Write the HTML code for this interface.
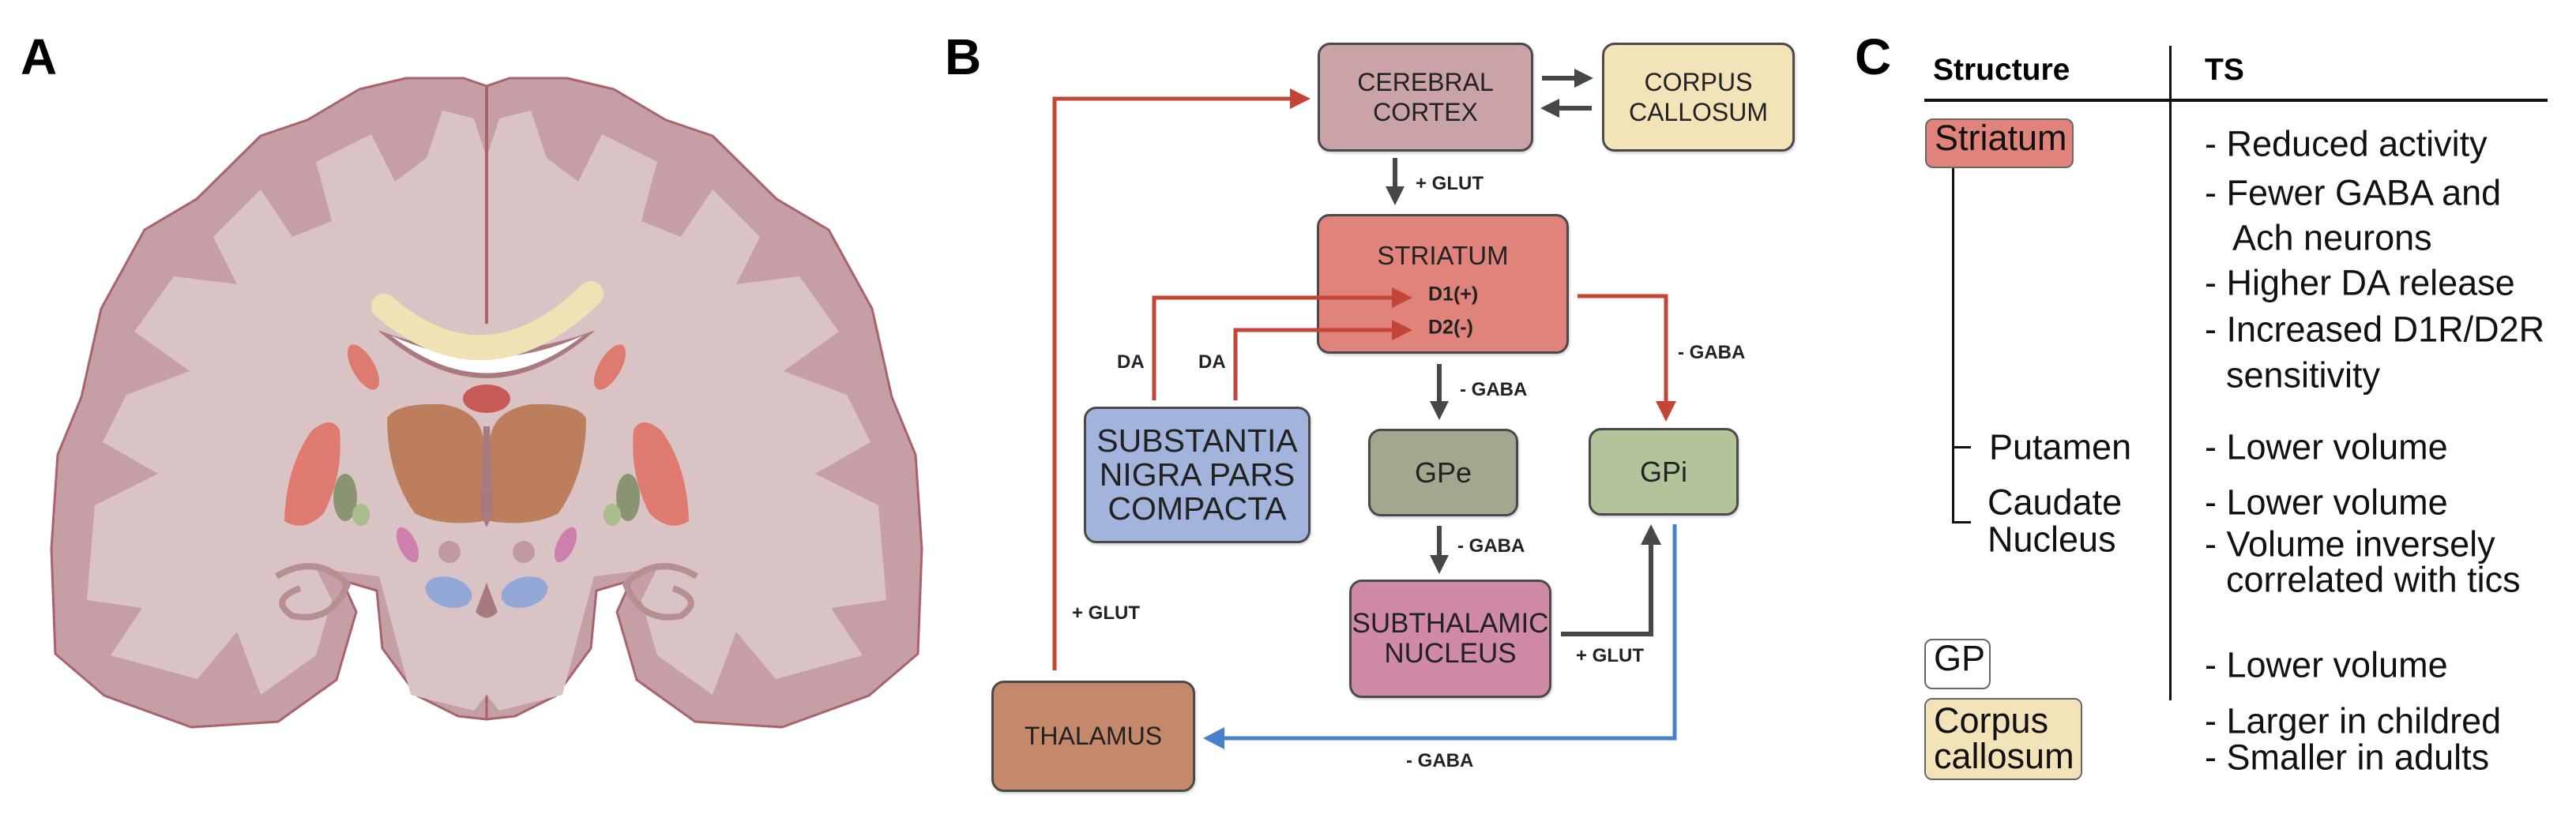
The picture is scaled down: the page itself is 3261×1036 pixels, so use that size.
<!DOCTYPE html>
<html><head><meta charset="utf-8"><style>
html,body{margin:0;padding:0;background:#fff;}
body{width:3261px;height:1036px;position:relative;overflow:hidden;font-family:"Liberation Sans",Arial,sans-serif;}
.box{position:absolute;box-sizing:border-box;border:3px solid #4a4a4a;border-radius:16px;display:flex;align-items:center;justify-content:center;text-align:center;color:#222;line-height:1.2;box-shadow:1px 2px 3px rgba(0,0,0,0.2);}
.lbl{position:absolute;font-weight:bold;font-size:24px;color:#222;white-space:nowrap;transform:translateY(-50%);}
.pl{position:absolute;font-weight:bold;font-size:64px;color:#000;line-height:1;}
.t{position:absolute;font-size:45px;color:#111;white-space:nowrap;transform:translateY(-50%);line-height:1;}
.tag{position:absolute;box-sizing:border-box;border:2px solid #666;border-radius:10px;font-size:45px;color:#111;padding-left:10px;line-height:1.02;}
</style></head><body>

<!-- Panel A -->
<div class="pl" style="left:26px;top:40px;">A</div>
<svg style="position:absolute;left:0;top:0" width="1240" height="1036" viewBox="0 0 1240 1036">
<defs>
<path id="half" d="M616,109 L587,99 L514,99 L455,113 L389,152 L330,172 L249,252 L183,291 L128,391 L103,503 L73,576 L65,695 L70,828 L132,881 L242,921 L352,914 L426,861 L451,775 L433,735 L477,748 L484,821 L528,881 L580,907 L616,911 Z"/>
</defs>
<g stroke="#a9636d" stroke-width="3" fill="#c59fa5" stroke-linejoin="round">
<use href="#half"/>
<use href="#half" transform="translate(1232,0) scale(-1,1)"/>
</g>
<!-- white matter -->
<g fill="#dac3c4">
<path id="wm" d="M600,150 L560,140 L540,200 L500,230 L470,170 L400,205 L420,280 L370,300 L330,240 L270,300 L300,360 L220,350 L170,420 L240,470 L160,500 L130,560 L200,600 L120,640 L110,760 L180,770 L140,830 L250,860 L300,800 L330,880 L400,830 L420,760 L400,720 L480,730 L520,880 L600,900 L616,880 L616,200 Z"/>
<use href="#wm" transform="translate(1232,0) scale(-1,1)"/>
</g>
<line x1="616" y1="110" x2="616" y2="410" stroke="#a9636d" stroke-width="4"/>
<!-- hippocampus curls -->
<path d="M350,730 Q400,700 440,740 Q420,790 370,780 Q340,760 380,745" fill="none" stroke="#b88e95" stroke-width="8"/>
<path d="M882,730 Q832,700 792,740 Q812,790 862,780 Q892,760 852,745" fill="none" stroke="#b88e95" stroke-width="8"/>
<!-- corpus callosum & ventricles -->
<path d="M478,418 Q616,540 754,418 Q616,470 478,418 Z" fill="#a87a80"/>
<path d="M495,425 Q616,520 738,425 Q616,480 495,425 Z" fill="#fff"/>
<path d="M486,388 Q616,500 748,372" fill="none" stroke="#efe3b5" stroke-width="32" stroke-linecap="round"/>
<ellipse cx="616" cy="505" rx="30" ry="18" fill="#c95a55"/>
<!-- caudate -->
<ellipse cx="460" cy="465" rx="14" ry="32" fill="#df7a70" transform="rotate(-30 460 465)"/>
<ellipse cx="772" cy="465" rx="14" ry="32" fill="#df7a70" transform="rotate(30 772 465)"/>
<!-- thalamus -->
<path d="M490,530 Q500,510 560,512 Q610,520 612,560 L612,660 Q560,668 525,650 Q490,600 490,530 Z" fill="#bc7e5c"/>
<path d="M742,530 Q732,510 672,512 Q622,520 620,560 L620,660 Q672,668 707,650 Q742,600 742,530 Z" fill="#bc7e5c"/>
<path d="M612,540 L620,540 L624,650 L616,668 L608,650 Z" fill="#a87a80"/>
<!-- putamen -->
<path d="M360,660 Q362,590 395,545 Q420,525 430,545 Q435,600 410,650 Q385,675 360,660 Z" fill="#df7a70"/>
<path d="M872,660 Q870,590 837,545 Q812,525 802,545 Q797,600 822,650 Q847,675 872,660 Z" fill="#df7a70"/>
<!-- GP -->
<ellipse cx="437" cy="630" rx="15" ry="30" fill="#8b9470"/>
<ellipse cx="795" cy="630" rx="15" ry="30" fill="#8b9470"/>
<ellipse cx="457" cy="652" rx="11" ry="14" fill="#a8bc8c"/>
<ellipse cx="775" cy="652" rx="11" ry="14" fill="#a8bc8c"/>
<!-- STN -->
<ellipse cx="516" cy="690" rx="11" ry="24" fill="#cf7fae" transform="rotate(-25 516 690)"/>
<ellipse cx="716" cy="690" rx="11" ry="24" fill="#cf7fae" transform="rotate(25 716 690)"/>
<circle cx="569" cy="699" r="14" fill="#c09aa0"/>
<circle cx="663" cy="699" r="14" fill="#c09aa0"/>
<!-- SN -->
<ellipse cx="568" cy="750" rx="30" ry="19" fill="#94a8d8" transform="rotate(15 568 750)"/>
<ellipse cx="664" cy="750" rx="30" ry="19" fill="#94a8d8" transform="rotate(-15 664 750)"/>
<path d="M616,738 L630,775 Q616,790 602,775 Z" fill="#a87a80"/>
</svg>

<!-- Panel B -->
<div class="pl" style="left:1196px;top:40px;">B</div>
<div class="box" style="left:1668px;top:54px;width:273px;height:138px;background:#c9a3a8;font-size:32px;">CEREBRAL<br>CORTEX</div>
<div class="box" style="left:2028px;top:54px;width:244px;height:138px;background:#f2e3b9;font-size:32px;">CORPUS<br>CALLOSUM</div>
<div class="box" style="left:1667px;top:271px;width:319px;height:177px;background:#e0847b;font-size:33px;align-items:flex-start;padding-top:30px;">STRIATUM</div>
<div class="box" style="left:1372px;top:515px;width:287px;height:173px;background:#a3b4dc;font-size:41px;line-height:1.05;">SUBSTANTIA<br>NIGRA PARS<br>COMPACTA</div>
<div class="box" style="left:1732px;top:543px;width:190px;height:111px;background:#a3a78d;font-size:36px;">GPe</div>
<div class="box" style="left:2011px;top:542px;width:190px;height:111px;background:#b3c49b;font-size:36px;">GPi</div>
<div class="box" style="left:1708px;top:734px;width:256px;height:150px;background:#d08aa8;font-size:35px;line-height:1.1;">SUBTHALAMIC<br>NUCLEUS</div>
<div class="box" style="left:1255px;top:862px;width:258px;height:141px;background:#c4896a;font-size:32px;">THALAMUS</div>

<svg style="position:absolute;left:0;top:0" width="3261" height="1036">
<g fill="none" stroke-width="5">
<polyline points="1335,849 1335,125 1635,125" stroke="#c44436"/>
<polyline points="1461,507 1461,377 1765,377" stroke="#c44436"/>
<polyline points="1564,507 1564,418 1765,418" stroke="#c44436"/>
<polyline points="1997,375 2109,375 2109,512" stroke="#c44436"/>
<polyline points="2120,664 2120,935 1546,935" stroke="#4a80c8"/>
</g>
<g fill="none" stroke="#474747" stroke-width="6">
<line x1="1952" y1="99" x2="1995" y2="99"/>
<line x1="2015" y1="137" x2="1972" y2="137"/>
<line x1="1766" y1="200" x2="1766" y2="240"/>
<line x1="1822" y1="461" x2="1822" y2="512"/>
<line x1="1822" y1="666" x2="1822" y2="707"/>
<polyline points="1976,803 2090,803 2090,686"/>
</g>
<g fill="#c44436">
<polygon points="1659,125 1633,112 1633,138"/>
<polygon points="1788,377 1762,364 1762,390"/>
<polygon points="1788,418 1762,405 1762,431"/>
<polygon points="2109,534 2096,508 2122,508"/>
</g>
<polygon points="1523,935 1550,921 1550,949" fill="#4a80c8"/>
<g fill="#474747">
<polygon points="2017,99 1993,87 1993,111"/>
<polygon points="1950,137 1974,125 1974,149"/>
<polygon points="1766,260 1754,236 1778,236"/>
<polygon points="1822,532 1810,508 1834,508"/>
<polygon points="1822,727 1810,703 1834,703"/>
<polygon points="2090,664 2077,690 2103,690"/>
</g>
</svg>
<div class="lbl" style="left:1792px;top:233px;">+ GLUT</div>
<div class="lbl" style="left:1808px;top:373px;font-size:25px;">D1(+)</div>
<div class="lbl" style="left:1808px;top:415px;font-size:25px;">D2(-)</div>
<div class="lbl" style="left:1414px;top:459px;">DA</div>
<div class="lbl" style="left:1517px;top:459px;">DA</div>
<div class="lbl" style="left:2124px;top:447px;">- GABA</div>
<div class="lbl" style="left:1848px;top:494px;">- GABA</div>
<div class="lbl" style="left:1845px;top:692px;">- GABA</div>
<div class="lbl" style="left:1357px;top:777px;">+ GLUT</div>
<div class="lbl" style="left:1995px;top:831px;">+ GLUT</div>
<div class="lbl" style="left:1780px;top:964px;">- GABA</div>

<!-- Panel C -->
<div class="pl" style="left:2348px;top:40px;">C</div>
<div style="position:absolute;left:2447px;top:89px;transform:translateY(-50%);font-weight:bold;font-size:39px;">Structure</div>
<div style="position:absolute;left:2791px;top:89px;transform:translateY(-50%);font-weight:bold;font-size:39px;">TS</div>
<div style="position:absolute;left:2436px;top:125px;width:789px;height:4px;background:#111;"></div>
<div style="position:absolute;left:2746px;top:58px;width:3px;height:829px;background:#111;"></div>
<div style="position:absolute;left:2471px;top:213px;width:3px;height:450px;background:#111;"></div>
<div style="position:absolute;left:2471px;top:565px;width:24px;height:3px;background:#111;"></div>
<div style="position:absolute;left:2471px;top:660px;width:24px;height:3px;background:#111;"></div>

<div class="tag" style="left:2437px;top:150px;width:188px;height:63px;background:#e0847b;">Striatum</div>
<div class="tag" style="left:2436px;top:809px;width:84px;height:64px;background:#fff;">GP</div>
<div class="tag" style="left:2436px;top:884px;width:200px;height:104px;background:#f2e3b9;line-height:1.0;padding-top:4px;">Corpus<br>callosum</div>

<div class="t" style="left:2518px;top:566px;">Putamen</div>
<div class="t" style="left:2516px;top:636px;">Caudate</div>
<div class="t" style="left:2516px;top:683px;">Nucleus</div>

<div class="t" style="left:2791px;top:182px;">- Reduced activity</div>
<div class="t" style="left:2791px;top:244px;">- Fewer GABA and</div>
<div class="t" style="left:2826px;top:301px;">Ach neurons</div>
<div class="t" style="left:2791px;top:358px;">- Higher DA release</div>
<div class="t" style="left:2791px;top:417px;">- Increased D1R/D2R</div>
<div class="t" style="left:2818px;top:475px;">sensitivity</div>
<div class="t" style="left:2791px;top:566px;">- Lower volume</div>
<div class="t" style="left:2791px;top:636px;">- Lower volume</div>
<div class="t" style="left:2791px;top:689px;">- Volume inversely</div>
<div class="t" style="left:2818px;top:734px;">correlated with tics</div>
<div class="t" style="left:2791px;top:842px;">- Lower volume</div>
<div class="t" style="left:2791px;top:913px;">- Larger in childred</div>
<div class="t" style="left:2791px;top:959px;">- Smaller in adults</div>
</body></html>
